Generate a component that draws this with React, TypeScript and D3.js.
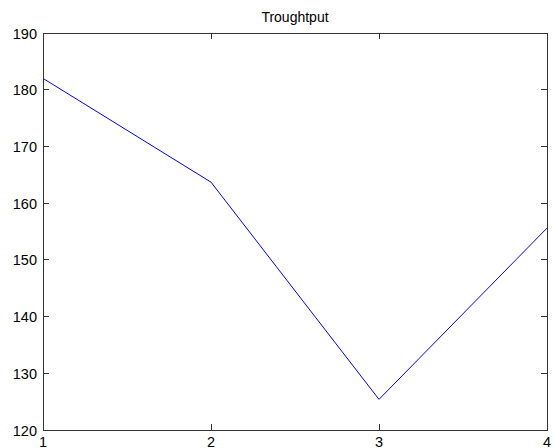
import React from "react";
import * as d3 from "d3";

const xValues = [1, 2, 3, 4];
const yValues = [182, 163.7, 125.4, 155.6];
const xTicks = [1, 2, 3, 4];
const yTicks = [120, 130, 140, 150, 160, 170, 180, 190];
const title = "Troughtput";

const W = 553;
const H = 448;
const M = { left: 43, right: 6, top: 33, bottom: 18 };

export default function App() {
  const x = d3.scaleLinear().domain([1, 4]).range([M.left, W - M.right]);
  const y = d3.scaleLinear().domain([120, 190]).range([H - M.bottom, M.top]);
  const line = d3
    .line<number>()
    .x((_, i) => x(xValues[i]))
    .y((d) => y(d));
  const x0 = M.left, x1 = W - M.right, y0 = M.top, y1 = H - M.bottom;
  const tl = 6;
  const font = "'Liberation Sans', Arial, sans-serif";
  return (
    <svg
      width={W}
      height={H}
      style={{ position: "absolute", left: 0, top: 0, display: "block", background: "#fff" }}
    >
      <rect x={0} y={0} width={W} height={H} fill="#fff" />
      <path d={line(yValues) || ""} fill="none" stroke="#0000ff" strokeWidth={1} />
      <g stroke="#333" strokeWidth={1} shapeRendering="crispEdges">
        <rect x={x0} y={y0} width={x1 - x0} height={y1 - y0} fill="none" />
        {xTicks.map((t) => (
          <g key={"x" + t}>
            <line x1={x(t)} x2={x(t)} y1={y1} y2={y1 - tl} />
            <line x1={x(t)} x2={x(t)} y1={y0} y2={y0 + tl} />
          </g>
        ))}
        {yTicks.map((t) => (
          <g key={"y" + t}>
            <line x1={x0} x2={x0 + tl} y1={y(t)} y2={y(t)} />
            <line x1={x1} x2={x1 - tl} y1={y(t)} y2={y(t)} />
          </g>
        ))}
      </g>
      <g fontFamily={font} fontSize={14.5} fill="#000">
        {xTicks.map((t) => (
          <text key={"xl" + t} x={x(t)} y={y1 + 17} textAnchor="middle">
            {t}
          </text>
        ))}
        {yTicks.map((t) => (
          <text key={"yl" + t} x={x0 - 6} y={y(t) + 5.5} textAnchor="end">
            {t}
          </text>
        ))}
        <text x={(x0 + x1) / 2} y={22} textAnchor="middle" fontSize={14}>
          {title}
        </text>
      </g>
    </svg>
  );
}
